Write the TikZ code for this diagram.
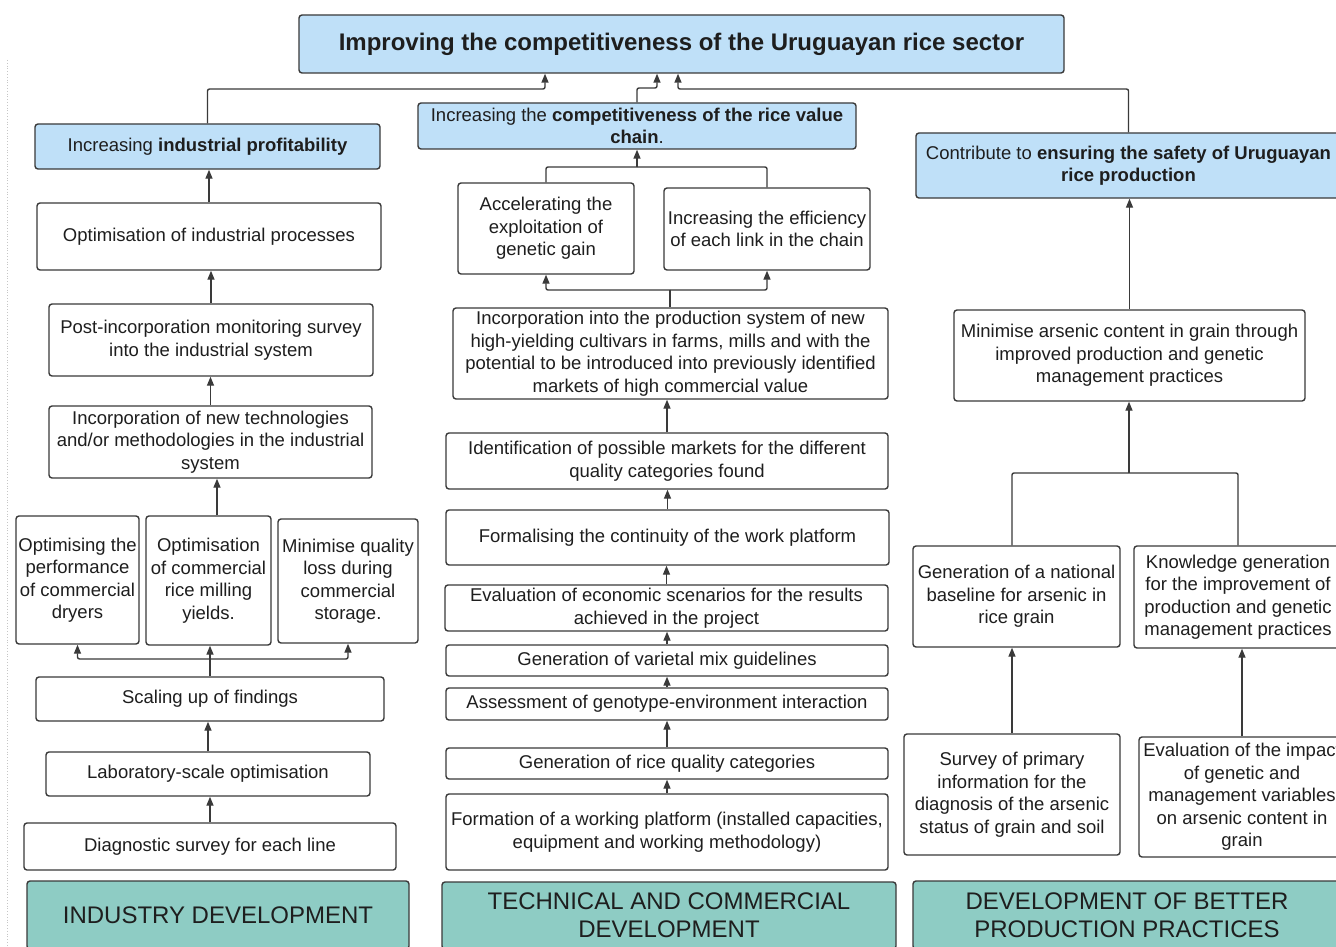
\documentclass[tikz,border=0pt]{standalone}
\usepackage{fontspec}
\setmainfont{Liberation Sans}
\usetikzlibrary{arrows.meta}
\definecolor{goalblue}{HTML}{BFE0F8}
\definecolor{axisteal}{HTML}{8ECCC4}
\definecolor{edgegray}{HTML}{3A3A3A}
\definecolor{inkgray}{HTML}{1E1E1E}
\tikzset{
  box/.style={draw=edgegray, line width=1.4pt, rounded corners=3pt, fill=white,
    align=center, inner sep=0pt, text=inkgray,
    font=\fontsize{18.5}{22.5}\selectfont},
  goal/.style={box, fill=goalblue},
  toptitle/.style={box, fill=goalblue, font=\fontsize{24}{28}\selectfont\bfseries},
  axisbox/.style={box, fill=axisteal, font=\fontsize{24}{28}\selectfont},
  link/.style={draw=edgegray, line width=1.4pt, rounded corners=2pt},
  arr/.style={link, -{Triangle[length=9pt,width=7pt]}},
}
\begin{document}
\begin{tikzpicture}[x=1pt,y=-1pt]
\path[use as bounding box, fill=white] (0,0) rectangle (1336,947);
\clip (0,0) rectangle (1336,947);

% faint page rule on the left
\draw[gray!45, dotted, line width=0.8pt] (7,60) -- (7,947);

% ---------- overall goal ----------
\node[toptitle, minimum width=765, minimum height=58] (title) at (681.5,44)
  {Improving the competitiveness of the Uruguayan rice sector};

% ---------- specific goals ----------
\node[goal, minimum width=345, minimum height=45] (gL) at (207.5,146.5)
  {Increasing \textbf{industrial profitability}};
\node[goal, minimum width=438, minimum height=46] (gM) at (637,126)
  {Increasing the \textbf{competitiveness of the rice value}\\\textbf{chain}.};
\node[goal, minimum width=425, minimum height=65] (gR) at (1128.5,165.5)
  {Contribute to \textbf{ensuring the safety of Uruguayan}\\\textbf{rice production}};

% ---------- industry development column ----------
\node[box, minimum width=344, minimum height=67] (L1) at (209,236.5)
  {Optimisation of industrial processes};
\node[box, minimum width=324, minimum height=72] (L2) at (211,340)
  {Post-incorporation monitoring survey\\into the industrial system};
\node[box, minimum width=323, minimum height=72] (L3) at (210.5,442)
  {Incorporation of new technologies\\and/or methodologies in the industrial\\system};
\node[box, minimum width=123, minimum height=128] (L4a) at (77.5,580)
  {Optimising the\\performance\\of commercial\\dryers};
\node[box, minimum width=125, minimum height=129] (L4b) at (208.5,580.5)
  {Optimisation\\of commercial\\rice milling\\yields.};
\node[box, minimum width=140, minimum height=124] (L4c) at (348,581)
  {Minimise quality\\loss during\\commercial\\storage.};
\node[box, minimum width=348, minimum height=44] (L5) at (210,699)
  {Scaling up of findings};
\node[box, minimum width=324, minimum height=44] (L6) at (208,774)
  {Laboratory-scale optimisation};
\node[box, minimum width=372, minimum height=47] (L7) at (210,846.5)
  {Diagnostic survey for each line};
\node[axisbox, minimum width=382, minimum height=68] (LT) at (218,915)
  {INDUSTRY DEVELOPMENT};

% ---------- technical and commercial column ----------
\node[box, minimum width=176, minimum height=91] (Macc) at (546,228.5)
  {Accelerating the\\exploitation of\\genetic gain};
\node[box, minimum width=206, minimum height=82] (Meff) at (767,229)
  {Increasing the efficiency\\of each link in the chain};
\node[box, minimum width=435, minimum height=91] (Minc) at (670.5,353.5)
  {Incorporation into the production system of new\\high-yielding cultivars in farms, mills and with the\\potential to be introduced into previously identified\\markets of high commercial value};
\node[box, minimum width=442, minimum height=56] (Mmkt) at (667,461)
  {Identification of possible markets for the different\\quality categories found};
\node[box, minimum width=443, minimum height=55] (Mfor) at (667.5,537.5)
  {Formalising the continuity of the work platform};
\node[box, minimum width=443, minimum height=46] (Meco) at (666.5,608)
  {Evaluation of economic scenarios for the results\\achieved in the project};
\node[box, minimum width=442, minimum height=31] (Mmix) at (667,660.5)
  {Generation of varietal mix guidelines};
\node[box, minimum width=442, minimum height=32] (Mgxe) at (667,704)
  {Assessment of genotype-environment interaction};
\node[box, minimum width=442, minimum height=31] (Mcat) at (667,763.5)
  {Generation of rice quality categories};
\node[box, minimum width=442, minimum height=76] (Mpla) at (667,832)
  {Formation of a working platform (installed capacities,\\equipment and working methodology)};
\node[axisbox, minimum width=454, minimum height=67] (MT) at (669,915.5)
  {TECHNICAL AND COMMERCIAL\\DEVELOPMENT};

% ---------- production practices column ----------
\node[box, minimum width=351, minimum height=91] (Rmin) at (1129.5,355.5)
  {Minimise arsenic content in grain through\\improved production and genetic\\management practices};
\node[box, minimum width=207, minimum height=101] (Rnat) at (1016.5,596.5)
  {Generation of a national\\baseline for arsenic in\\rice grain};
\node[box, minimum width=208, minimum height=102] (Rkno) at (1238,597)
  {Knowledge generation\\for the improvement of\\production and genetic\\management practices};
\node[box, minimum width=216, minimum height=121] (Rsur) at (1012,794.5)
  {Survey of primary\\information for the\\diagnosis of the arsenic\\status of grain and soil};
\node[box, minimum width=206, minimum height=120] (Reva) at (1242,797)
  {Evaluation of the impact\\of genetic and\\management variables\\on arsenic content in\\grain};
\node[axisbox, minimum width=428, minimum height=68] (RT) at (1127,915)
  {DEVELOPMENT OF BETTER\\PRODUCTION PRACTICES};

% ---------- junction points ----------
\coordinate (tL) at (545,89);
\coordinate (tM) at (657,88);
\coordinate (tR) at (678,89);
\coordinate (jM) at (637,167);
\coordinate (jI) at (670,290);
\coordinate (jS) at (210,659);
\coordinate (x217) at (217,0);
\coordinate (jR) at (1129,473);
\coordinate (jRL) at (1012,473);
\coordinate (jRR) at (1238,473);

% ---------- connectors to the overall goal ----------
\draw[arr] (gL.north) |- (tL) -- (tL |- title.south);
\draw[arr] (gM.north) |- (tM) -- (tM |- title.south);
\draw[arr] (gR.north) |- (tR) -- (tR |- title.south);

% ---------- industry development connectors ----------
\draw[arr] (L1.north) -- (L1.north |- gL.south);
\draw[arr] (L2.north) -- (L2.north |- L1.south);
\draw[arr] (L3.north) -- (L3.north |- L2.south);
\draw[arr] (L4b.north -| x217) -- (x217 |- L3.south);
\draw[link] (L5.north) -- (jS);
\draw[arr] (jS) -| (L4a.south);
\draw[arr] (jS) -| (L4c.south);
\draw[arr] (jS) -- (jS |- L4b.south);
\draw[arr] (L6.north) -- (L6.north |- L5.south);
\draw[arr] (L7.north) -- (L7.north |- L6.south);

% ---------- technical and commercial connectors ----------
\draw[link] (Macc.north) |- (jM);
\draw[link] (Meff.north) |- (jM);
\draw[arr] (jM) -- (jM |- gM.south);
\draw[link] (Minc.north -| jI) -- (jI);
\draw[arr] (jI) -| (Macc.south);
\draw[arr] (jI) -| (Meff.south);
\draw[arr] (Mmkt.north) -- (Mmkt.north |- Minc.south);
\draw[arr] (Mfor.north) -- (Mfor.north |- Mmkt.south);
\draw[arr] (Meco.north) -- (Meco.north |- Mfor.south);
\draw[arr] (Mmix.north) -- (Mmix.north |- Meco.south);
\draw[arr] (Mgxe.north) -- (Mgxe.north |- Mmix.south);
\draw[arr] (Mcat.north) -- (Mcat.north |- Mgxe.south);
\draw[arr] (Mpla.north) -- (Mpla.north |- Mcat.south);

% ---------- production practices connectors ----------
\draw[arr] (Rmin.north) -- (Rmin.north |- gR.south);
\draw[link] (jRL |- Rnat.north) -- (jRL) -- (jRR) -- (jRR |- Rkno.north);
\draw[arr] (jR) -- (jR |- Rmin.south);
\draw[arr] (Rsur.north) -- (Rsur.north |- Rnat.south);
\draw[arr] (Reva.north) -- (Reva.north |- Rkno.south);
\end{tikzpicture}
\end{document}
